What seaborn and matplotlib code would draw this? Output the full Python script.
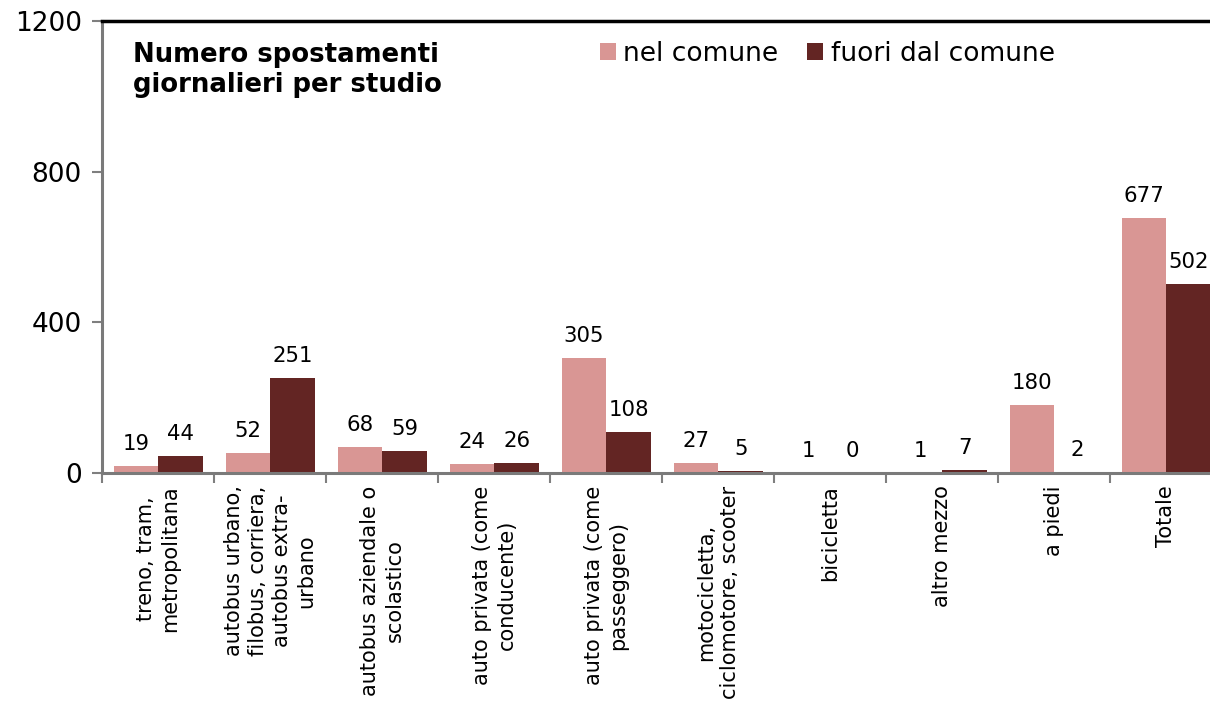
import matplotlib
matplotlib.use("Agg")
import matplotlib.pyplot as plt
import seaborn as sns
import pandas as pd
import numpy as np

categories = [
    "treno, tram,\nmetropolitana",
    "autobus urbano,\nfilobus, corriera,\nautobus extra-\nurbano",
    "autobus aziendale o\nscolastico",
    "auto privata (come\nconducente)",
    "auto privata (come\npasseggero)",
    "motocicletta,\nciclomotore, scooter",
    "bicicletta",
    "altro mezzo",
    "a piedi",
    "Totale",
]
nel_comune = [19, 52, 68, 24, 305, 27, 1, 1, 180, 677]
fuori_comune = [44, 251, 59, 26, 108, 5, 0, 7, 2, 502]
series_names = ["nel comune", "fuori dal comune"]
colors = ["#D99694", "#632523"]
title = "Numero spostamenti\ngiornalieri per studio"
y_ticks = [0, 400, 800, 1200]

df = pd.DataFrame({
    "categoria": categories * 2,
    "serie": [series_names[0]] * len(categories) + [series_names[1]] * len(categories),
    "valore": nel_comune + fuori_comune,
})

sns.set_style("white")
plt.rcParams["font.family"] = ["DejaVu Sans"]
plt.rcParams["text.color"] = "black"
plt.rcParams["xtick.color"] = "black"
plt.rcParams["ytick.color"] = "black"

fig = plt.figure(figsize=(12.10, 7.03), dpi=100)
ax = fig.add_axes([0.0847, 0.3272, 0.9256, 0.643])

sns.barplot(
    data=df, x="categoria", y="valore", hue="serie",
    order=categories, hue_order=series_names, palette=colors,
    width=0.8, saturation=1, dodge=True, ax=ax, legend=False,
    linewidth=0, edgecolor="none",
)

# value labels above each bar
for cont in ax.containers:
    for patch, val in zip(cont.patches, cont.datavalues):
        ax.annotate(
            f"{val:.0f}",
            xy=(patch.get_x() + patch.get_width() / 2, patch.get_height()),
            xytext=(0, 11.5), textcoords="offset points",
            ha="center", va="baseline", fontsize=15.3, color="black",
        )

ax.set_xlim(-0.5, len(categories) - 0.5)
ax.set_ylim(0, 1200)
ax.set_yticks(y_ticks)
ax.set_xlabel("")
ax.set_ylabel("")

# category labels at centres, tick marks at the boundaries
ax.set_xticks(np.arange(len(categories)))
ax.set_xticklabels(categories, rotation=90, fontsize=15, ha="center",
                   va="top", multialignment="center", linespacing=1.25)
ax.set_xticks(np.arange(len(categories) + 1) - 0.5, minor=True)
ax.tick_params(axis="x", which="major", bottom=True, length=0, pad=9)
ax.tick_params(axis="x", which="minor", bottom=True, length=7, width=1.5,
               color="#7f7f7f", direction="out")
ax.tick_params(axis="y", which="major", left=True, length=7, width=1.5,
               color="#7f7f7f", labelcolor="black", direction="out",
               labelsize=19, pad=8)

for side in ("left", "bottom"):
    ax.spines[side].set_color("#7a7a7a")
    ax.spines[side].set_linewidth(2.2)
ax.spines["top"].set_color("black")
ax.spines["top"].set_linewidth(2.5)
ax.spines["right"].set_visible(False)

fig.text(133 / 1210, 1 - 42 / 703, title, ha="left", va="top",
         fontsize=18.7, fontweight="bold", linespacing=1.2, color="black")

handles = [plt.Rectangle((0, 0), 1, 1, facecolor=c, edgecolor="none") for c in colors]
fig.legend(handles, series_names, loc="upper left",
           bbox_to_anchor=(600 / 1210, 1 - 41 / 703), ncol=2, frameon=False,
           fontsize=19, handlelength=0.6, handleheight=0.6,
           handletextpad=0.28, columnspacing=1.1, borderpad=0, borderaxespad=0,
           labelcolor="black")

fig.savefig("out.png", dpi=100)
